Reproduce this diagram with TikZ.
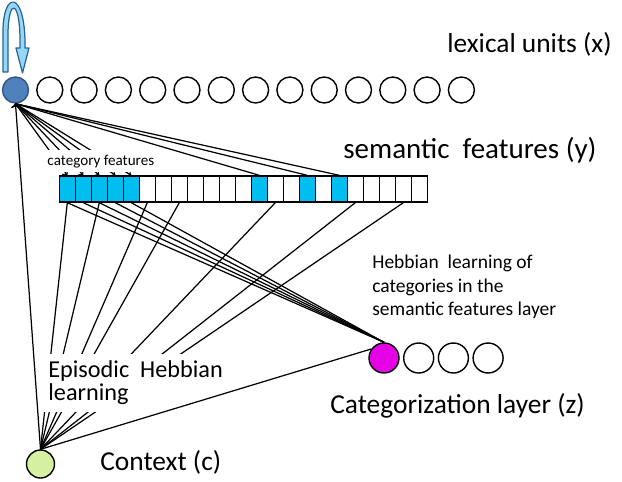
\documentclass[tikz,border=0pt]{standalone}
\usepackage{fontspec}
\setmainfont{Carlito}
\usetikzlibrary{arrows,positioning}
\definecolor{lexblue}{RGB}{79,129,189}
\definecolor{lexrim}{RGB}{50,85,130}
\definecolor{featcyan}{RGB}{0,190,240}
\definecolor{catpink}{RGB}{230,0,230}
\definecolor{ctxgreen}{RGB}{212,240,160}
\definecolor{loopfill}{RGB}{150,215,245}
\definecolor{looprim}{RGB}{40,100,150}
\tikzset{%
	unitnode/.style={circle, draw=black, line width=0.8pt, fill=white, minimum size=0.52cm, inner sep=0pt},
	lexnode/.style={unitnode, draw=lexrim, fill=lexblue},
	catunit/.style={unitnode, minimum size=0.6cm},
	catnode/.style={catunit, fill=catpink},
	ctxnode/.style={unitnode, minimum size=0.56cm, fill=ctxgreen},
	featcell/.style={rectangle, draw=black, line width=0.8pt, fill=white, minimum width=0.32cm, minimum height=0.52cm, inner sep=0pt},
	catcell/.style={featcell, fill=featcyan},
	bigtext/.style={anchor=base west, inner sep=0pt, font=\fontsize{15.6}{18}\selectfont},
	notetext/.style={anchor=base west, inner sep=0pt, font=\fontsize{11.1}{13}\selectfont},
	episodtext/.style={anchor=base west, fill=white, inner xsep=2pt, inner ysep=0pt, font=\fontsize{13.8}{16}\selectfont},
	tofeat/.style={draw=black, line width=0.7pt},
	tocat/.style={draw=black, line width=0.7pt,->}}

\begin{document}
\begin{tikzpicture}[x=0.02cm, y=-0.02cm]
	\useasboundingbox (0,0) rectangle (622,481);
	% self loop on the first lexical unit
	\draw[looprim, fill=loopfill, line width=0.7pt, line join=round]
		(3,72) -- (3,35) .. controls (2,-11) and (26,-11) .. (25,48) -- (29,48) -- (22.5,73)
		-- (16,48) -- (20,48) .. controls (21,-3) and (8,-3) .. (8,35) -- (8,72) -- cycle;
	
	% layers
	\node[lexnode] (lex0) at (15.5,90) {};
	\foreach \k in {1,...,13}
		\node[unitnode] (lex\k) at (15.5+34.3*\k,90) {};
	\foreach \k in {0,...,22}
		\node[featcell] (sem\k) at (67.3+16*\k,189) {};
	\foreach \k in {0,...,4,12,15,17}
		\node[catcell] (hi\k) at (sem\k) {};
	\node[catnode] (cat0) at (384,358) {};
	\foreach \k in {1,2,3}
		\node[catunit] (cat\k) at (384+34.7*\k,358) {};
	\node[ctxnode] (ctx) at (40.5,464) {};
	
	% connections
	\foreach \k in {0,...,4}
		\path[tocat] (lex0.south) edge (sem\k.north);
	\foreach \k in {12,15,17}
		\path[tofeat] (lex0.south) edge (sem\k.north);
	\path[tofeat] (lex0.south) edge (ctx.north);
	\foreach \k in {0,...,4}
		\path[tofeat] (sem\k.south) edge (cat0.north);
	\foreach \k in {0,2,5,7,13,18,21}
		\path[tofeat] (sem\k.south) edge (ctx.north);
	\path[tofeat] (cat0.145) edge (ctx.north);
	
	% labels
	\node[bigtext] (lexlab) at (447,52) {lexical units (x)};
	\node[bigtext, font=\fontsize{16.5}{19}\selectfont] (semlab) at (343,158) {semantic~ features (y)};
	\node[anchor=base west, fill=white, inner xsep=1.5pt, inner ysep=2.5pt, font=\fontsize{8.6}{10}\selectfont] (catfeat) at (44.5,165) {category features};
	\node[notetext] (heb1) at (372,268) {Hebbian~ learning of};
	\node[notetext] (heb2) at (372,292) {categories in the};
	\node[notetext] (heb3) at (372,315) {semantic features layer};
	\node[episodtext, text height=13pt, text depth=7.4pt] (epi1) at (44.5,377) {Episodic~ Hebbian};
	\node[episodtext, text height=9.5pt, text depth=6.8pt, inner xsep=4pt] (epi2) at (41,400) {learning};
	\node[bigtext] (catlab) at (330,413) {Categorization layer (z)};
	\node[bigtext] (ctxlab) at (100,470) {Context (c)};
\end{tikzpicture}
\end{document}
